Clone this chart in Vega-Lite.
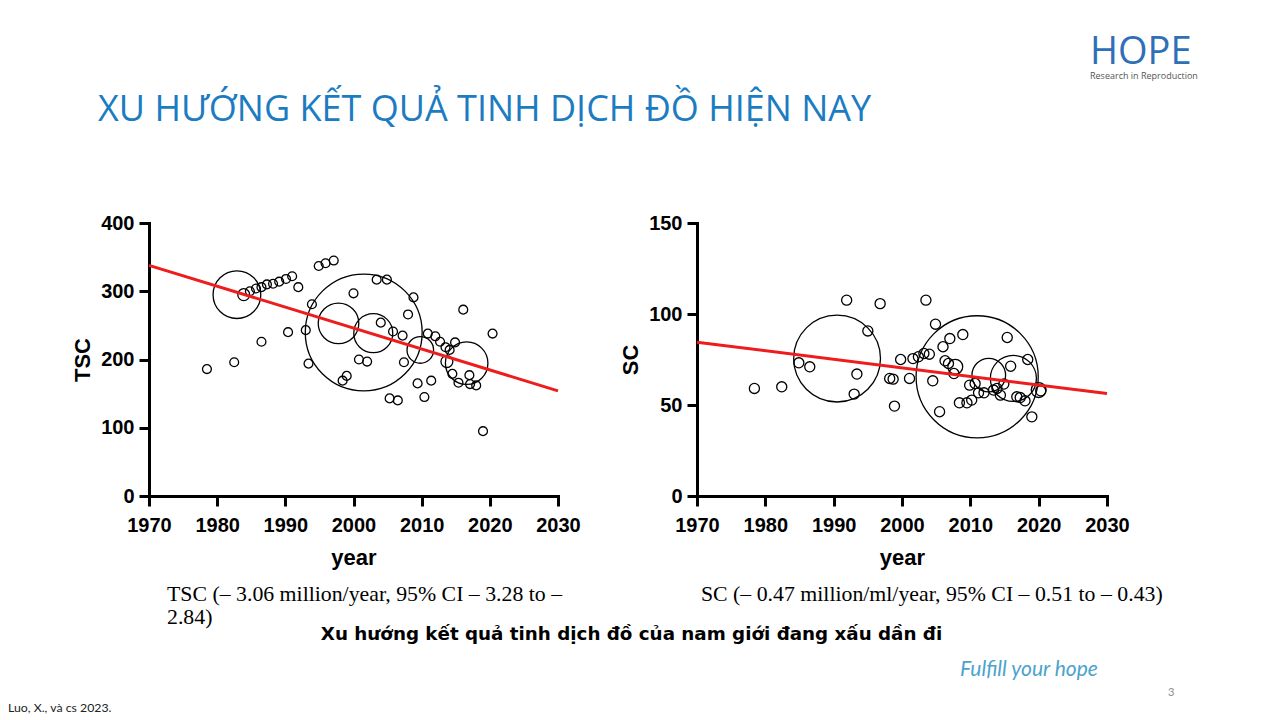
{
  "$schema": "https://vega.github.io/schema/vega-lite/v6.json",
  "background": "white",
  "padding": {"left": 8, "top": 34, "right": 0, "bottom": 0},
  "config": {
    "view": {"stroke": null},
    "axis": {"domainColor": "black", "domainWidth": 3, "domainCap": "square", "tickColor": "black", "tickWidth": 3, "tickSize": 10, "labelFont": "Liberation Sans", "labelFontSize": 20, "labelFontWeight": "bold", "labelColor": "black", "titleFont": "Liberation Sans", "titleFontSize": 22, "titleFontWeight": "bold", "titleColor": "black", "grid": false, "labelOverlap": false, "labelFlush": false},
    "axisX": {"labelPadding": 9, "titlePadding": 12},
    "axisY": {"labelPadding": 5, "titlePadding": 6}
  },
  "datasets": {
    "tsc": [
      {"year": 1982.9, "TSC": 295, "n": 2900},
      {"year": 2001.5, "TSC": 239.6, "n": 17400},
      {"year": 1997.8, "TSC": 253, "n": 2100},
      {"year": 2002.9, "TSC": 238.6, "n": 1940},
      {"year": 2009.8, "TSC": 214, "n": 900},
      {"year": 2016.6, "TSC": 194.6, "n": 2300},
      {"year": 1983.9, "TSC": 295, "n": 180},
      {"year": 2013.7, "TSC": 197, "n": 180},
      {"year": 1978.5, "TSC": 186, "n": 100},
      {"year": 1982.5, "TSC": 196, "n": 100},
      {"year": 1984.8, "TSC": 300, "n": 100},
      {"year": 1985.7, "TSC": 304, "n": 100},
      {"year": 1986.5, "TSC": 306, "n": 100},
      {"year": 1986.5, "TSC": 226, "n": 100},
      {"year": 1987.3, "TSC": 310, "n": 100},
      {"year": 1988.2, "TSC": 311, "n": 100},
      {"year": 1989.1, "TSC": 314, "n": 100},
      {"year": 1990.1, "TSC": 318, "n": 100},
      {"year": 1991.0, "TSC": 322, "n": 100},
      {"year": 1990.4, "TSC": 240, "n": 100},
      {"year": 1991.9, "TSC": 306, "n": 100},
      {"year": 1993.0, "TSC": 243, "n": 100},
      {"year": 1993.9, "TSC": 281, "n": 100},
      {"year": 1993.4, "TSC": 194, "n": 100},
      {"year": 1994.9, "TSC": 337, "n": 100},
      {"year": 1995.9, "TSC": 341, "n": 100},
      {"year": 1997.1, "TSC": 345, "n": 100},
      {"year": 2000.0, "TSC": 297, "n": 100},
      {"year": 1998.4, "TSC": 169, "n": 100},
      {"year": 1999.0, "TSC": 176, "n": 100},
      {"year": 2000.8, "TSC": 200, "n": 100},
      {"year": 2002.0, "TSC": 197, "n": 100},
      {"year": 2003.4, "TSC": 317, "n": 100},
      {"year": 2004.9, "TSC": 317, "n": 100},
      {"year": 2004.0, "TSC": 254, "n": 100},
      {"year": 2005.3, "TSC": 143, "n": 100},
      {"year": 2006.5, "TSC": 140, "n": 100},
      {"year": 2005.8, "TSC": 241, "n": 100},
      {"year": 2007.2, "TSC": 235, "n": 100},
      {"year": 2007.4, "TSC": 196, "n": 100},
      {"year": 2008.0, "TSC": 266, "n": 100},
      {"year": 2008.8, "TSC": 291, "n": 100},
      {"year": 2009.4, "TSC": 165, "n": 100},
      {"year": 2010.4, "TSC": 145, "n": 100},
      {"year": 2010.9, "TSC": 238, "n": 100},
      {"year": 2011.4, "TSC": 169, "n": 100},
      {"year": 2012.0, "TSC": 234, "n": 100},
      {"year": 2012.7, "TSC": 226, "n": 100},
      {"year": 2013.5, "TSC": 218, "n": 100},
      {"year": 2014.1, "TSC": 214, "n": 100},
      {"year": 2014.9, "TSC": 225, "n": 100},
      {"year": 2014.5, "TSC": 179, "n": 100},
      {"year": 2015.4, "TSC": 166, "n": 100},
      {"year": 2016.1, "TSC": 273, "n": 100},
      {"year": 2017.0, "TSC": 177, "n": 100},
      {"year": 2017.1, "TSC": 164, "n": 100},
      {"year": 2018.0, "TSC": 162, "n": 100},
      {"year": 2019.0, "TSC": 95, "n": 100},
      {"year": 2020.4, "TSC": 238, "n": 100}
    ],
    "tscTrend": [{"year": 1970, "TSC": 338}, {"year": 2030, "TSC": 154}],
    "sc": [
      {"year": 1990.5, "SC": 75.5, "n": 9600},
      {"year": 2011.0, "SC": 65.5, "n": 19000},
      {"year": 2012.7, "SC": 66.4, "n": 1440},
      {"year": 2016.3, "SC": 64.6, "n": 2700},
      {"year": 2007.8, "SC": 71, "n": 280},
      {"year": 2020.0, "SC": 58.2, "n": 280},
      {"year": 1978.4, "SC": 59.1, "n": 130},
      {"year": 1982.4, "SC": 60, "n": 130},
      {"year": 1984.9, "SC": 73.2, "n": 130},
      {"year": 1986.5, "SC": 71, "n": 130},
      {"year": 1991.9, "SC": 107.6, "n": 130},
      {"year": 1993.0, "SC": 56, "n": 130},
      {"year": 1993.4, "SC": 67, "n": 130},
      {"year": 1995.0, "SC": 90.7, "n": 130},
      {"year": 1996.8, "SC": 105.7, "n": 130},
      {"year": 1998.2, "SC": 64.6, "n": 130},
      {"year": 1998.7, "SC": 64.2, "n": 130},
      {"year": 1998.9, "SC": 49.4, "n": 130},
      {"year": 1999.8, "SC": 75, "n": 130},
      {"year": 2001.1, "SC": 64.6, "n": 130},
      {"year": 2001.6, "SC": 75.5, "n": 130},
      {"year": 2002.4, "SC": 76.5, "n": 130},
      {"year": 2003.2, "SC": 78.3, "n": 130},
      {"year": 2004.0, "SC": 77.9, "n": 130},
      {"year": 2003.5, "SC": 107.6, "n": 130},
      {"year": 2004.5, "SC": 63.3, "n": 130},
      {"year": 2004.9, "SC": 94.4, "n": 130},
      {"year": 2005.5, "SC": 46.3, "n": 130},
      {"year": 2006.0, "SC": 82, "n": 130},
      {"year": 2006.3, "SC": 74.3, "n": 130},
      {"year": 2007.0, "SC": 86.5, "n": 130},
      {"year": 2006.8, "SC": 72.8, "n": 130},
      {"year": 2007.6, "SC": 67.3, "n": 130},
      {"year": 2008.9, "SC": 88.7, "n": 130},
      {"year": 2008.4, "SC": 51.2, "n": 130},
      {"year": 2009.5, "SC": 51.2, "n": 130},
      {"year": 2009.9, "SC": 60.9, "n": 130},
      {"year": 2010.2, "SC": 52.7, "n": 130},
      {"year": 2010.7, "SC": 61.8, "n": 130},
      {"year": 2011.2, "SC": 56.7, "n": 130},
      {"year": 2012.0, "SC": 56.7, "n": 130},
      {"year": 2013.4, "SC": 58.2, "n": 130},
      {"year": 2013.9, "SC": 59.1, "n": 130},
      {"year": 2014.4, "SC": 55.4, "n": 130},
      {"year": 2014.9, "SC": 61.5, "n": 130},
      {"year": 2015.4, "SC": 87.1, "n": 130},
      {"year": 2015.9, "SC": 71.3, "n": 130},
      {"year": 2016.8, "SC": 54.5, "n": 130},
      {"year": 2017.3, "SC": 54.1, "n": 130},
      {"year": 2018.0, "SC": 52.3, "n": 130},
      {"year": 2018.4, "SC": 75, "n": 130},
      {"year": 2019.0, "SC": 43.5, "n": 130},
      {"year": 2020.3, "SC": 57.8, "n": 130}
    ],
    "scTrend": [{"year": 1970, "SC": 84.5}, {"year": 2030, "SC": 56.3}],
    "blank": [{}]
  },
  "bounds": "flush",
  "spacing": 0,
  "hconcat": [
    {
      "width": 409, "height": 273,
      "title": {"text": ["TSC (– 3.06 million/year, 95% CI – 3.28 to –", "2.84)"], "orient": "bottom", "anchor": "start", "frame": "group", "dx": 18, "offset": 16, "baseline": "top", "lineHeight": 22.5, "font": "Liberation Serif", "fontSize": 21.8, "fontWeight": "normal", "color": "black"},
      "layer": [
        {
          "data": {"name": "tsc"},
          "mark": {"type": "point", "shape": "circle", "filled": false, "color": "black", "strokeWidth": 1.3, "opacity": 1, "clip": false},
          "encoding": {
            "x": {"field": "year", "type": "quantitative", "scale": {"domain": [1970, 2030], "nice": false, "zero": false}, "axis": {"values": [1970, 1980, 1990, 2000, 2010, 2020, 2030], "format": "d", "title": "year"}},
            "y": {"field": "TSC", "type": "quantitative", "scale": {"domain": [0, 400], "nice": false}, "axis": {"values": [0, 100, 200, 300, 400], "title": "TSC"}},
            "size": {"field": "n", "type": "quantitative", "scale": {"domain": [0, 20000], "range": [0, 15700]}, "legend": null}
          }
        },
        {
          "data": {"name": "tscTrend"},
          "mark": {"type": "line", "color": "#ee1c1c", "strokeWidth": 3},
          "encoding": {
            "x": {"field": "year", "type": "quantitative"},
            "y": {"field": "TSC", "type": "quantitative"}
          }
        }
      ]
    },
    {
      "width": 139, "height": 273,
      "data": {"name": "blank"},
      "mark": {"type": "text", "text": ""},
      "encoding": {},
      "title": {"text": "Xu hướng kết quả tinh dịch đồ của nam giới đang xấu dần đi", "orient": "bottom", "anchor": "middle", "frame": "group", "dx": 4, "offset": 130, "baseline": "top", "font": "DejaVu Sans", "fontSize": 18.3, "fontWeight": "bold", "color": "black"}
    },
    {
      "width": 410, "height": 273,
      "title": {"text": "SC (– 0.47 million/ml/year, 95% CI – 0.51 to – 0.43)", "orient": "bottom", "anchor": "start", "frame": "group", "dx": 4, "offset": 16, "baseline": "top", "font": "Liberation Serif", "fontSize": 21.8, "fontWeight": "normal", "color": "black"},
      "layer": [
        {
          "data": {"name": "sc"},
          "mark": {"type": "point", "shape": "circle", "filled": false, "color": "black", "strokeWidth": 1.3, "opacity": 1, "clip": false},
          "encoding": {
            "x": {"field": "year", "type": "quantitative", "scale": {"domain": [1970, 2030], "nice": false, "zero": false}, "axis": {"values": [1970, 1980, 1990, 2000, 2010, 2020, 2030], "format": "d", "title": "year"}},
            "y": {"field": "SC", "type": "quantitative", "scale": {"domain": [0, 150], "nice": false}, "axis": {"values": [0, 50, 100, 150], "title": "SC"}},
            "size": {"field": "n", "type": "quantitative", "scale": {"domain": [0, 20000], "range": [0, 15700]}, "legend": null}
          }
        },
        {
          "data": {"name": "scTrend"},
          "mark": {"type": "line", "color": "#ee1c1c", "strokeWidth": 3},
          "encoding": {
            "x": {"field": "year", "type": "quantitative"},
            "y": {"field": "SC", "type": "quantitative"}
          }
        }
      ]
    },
    {
      "width": 1, "height": 273,
      "data": {"name": "blank"},
      "mark": {"type": "text", "text": ""},
      "encoding": {},
      "title": {"text": "Fulfill your hope", "orient": "bottom", "anchor": "start", "frame": "group", "dx": -147, "offset": 163, "baseline": "top", "font": "Lato", "fontStyle": "italic", "fontSize": 21, "fontWeight": "normal", "color": "#4ba3cc"}
    },
    {
      "width": 1, "height": 273,
      "data": {"name": "blank"},
      "mark": {"type": "text", "text": ""},
      "encoding": {},
      "title": {"text": "3", "orient": "bottom", "anchor": "start", "frame": "group", "dx": 60, "offset": 191, "baseline": "top", "font": "Lato", "fontSize": 11, "fontWeight": "normal", "color": "#8c8c8c"}
    },
    {
      "width": 1, "height": 273,
      "data": {"name": "blank"},
      "mark": {"type": "text", "text": ""},
      "encoding": {},
      "title": {"text": "Luo, X., và cs 2023.", "orient": "bottom", "anchor": "start", "frame": "group", "dx": -1101, "offset": 206, "baseline": "top", "font": "Lato", "fontSize": 12.3, "fontWeight": "normal", "color": "#222222"}
    },
    {
      "width": 1, "height": 273,
      "data": {"name": "blank"},
      "mark": {"type": "text", "text": ""},
      "encoding": {},
      "title": {"text": "HOPE", "subtitle": "Research in Reproduction", "orient": "top", "anchor": "start", "frame": "group", "dx": -20, "offset": 142, "baseline": "top", "font": "Open Sans", "fontSize": 38, "fontWeight": "normal", "color": "#2f6fb7", "subtitleFont": "Open Sans", "subtitleFontSize": 9, "subtitleColor": "#555555", "subtitlePadding": 0}
    },
    {
      "width": 1, "height": 273,
      "data": {"name": "blank"},
      "mark": {"type": "text", "text": ""},
      "encoding": {},
      "title": {"text": "XU HƯỚNG KẾT QUẢ TINH DỊCH ĐỒ HIỆN NAY", "orient": "top", "anchor": "start", "frame": "group", "dx": -1013, "offset": 94.5, "baseline": "top", "font": "Open Sans", "fontSize": 36, "fontWeight": "normal", "color": "#1c7cc2"}
    }
  ]
}
